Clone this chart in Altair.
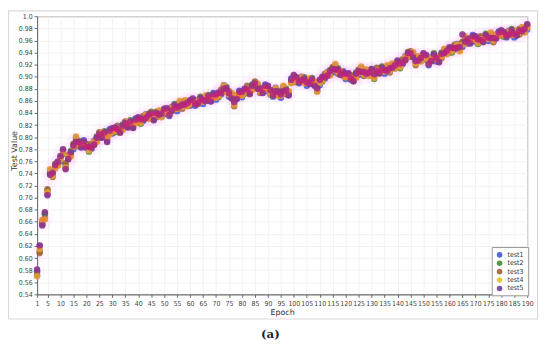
import altair as alt
import pandas as pd

epochs = list(range(1, 191))
series_names = ["test1", "test2", "test3", "test4", "test5"]
series_colors = ["#4058d8", "#3f8f2f", "#a0613a", "#e3c22a", "#6a3fa0"]

# values in thousandths
test1 = [578, 620, 656, 672, 706, 745, 739, 750, 760, 760,
         778, 749, 770, 772, 780, 799, 791, 784, 795, 782,
         782, 781, 794, 796, 799, 806, 807, 794, 813, 806,
         814, 811, 814, 816, 817, 823, 825, 816, 831, 824,
         828, 827, 838, 834, 833, 835, 839, 838, 841, 838,
         846, 835, 850, 850, 843, 858, 853, 855, 859, 852,
         862, 852, 862, 862, 855, 867, 867, 860, 873, 862,
         872, 871, 886, 878, 867, 871, 857, 864, 877, 866,
         878, 877, 878, 882, 883, 887, 879, 874, 887, 876,
         876, 867, 882, 872, 865, 883, 877, 870, 897, 894,
         897, 889, 900, 894, 885, 895, 895, 886, 883, 886,
         898, 897, 908, 906, 907, 919, 911, 904, 909, 896,
         904, 895, 899, 902, 903, 915, 907, 906, 909, 904,
         902, 907, 912, 912, 905, 917, 913, 916, 921, 918,
         920, 921, 934, 936, 933, 939, 925, 928, 933, 930,
         934, 919, 932, 934, 925, 931, 937, 940, 945, 940,
         946, 945, 954, 946, 949, 965, 961, 956, 969, 958,
         960, 959, 964, 966, 959, 971, 963, 964, 975, 968,
         972, 965, 976, 974, 965, 975, 976, 976, 981, 978]
test2 = [572, 611, 662, 674, 712, 739, 742, 753, 754, 767,
         772, 754, 765, 777, 787, 793, 794, 787, 788, 789,
         776, 786, 789, 801, 806, 800, 810, 797, 806, 813,
         808, 816, 809, 821, 824, 817, 828, 819, 824, 831,
         822, 832, 833, 839, 840, 829, 842, 841, 834, 845,
         840, 840, 845, 855, 850, 852, 856, 858, 852, 859,
         856, 857, 857, 867, 862, 861, 870, 863, 866, 869,
         866, 876, 881, 883, 874, 865, 860, 867, 870, 873,
         872, 882, 873, 887, 890, 881, 882, 877, 880, 883,
         870, 872, 877, 877, 872, 877, 880, 873, 890, 901,
         891, 894, 895, 899, 892, 889, 898, 889, 876, 893,
         892, 902, 903, 911, 914, 913, 914, 907, 902, 903,
         898, 900, 894, 907, 910, 909, 910, 909, 902, 911,
         896, 912, 907, 917, 912, 911, 916, 919, 914, 925,
         914, 926, 929, 941, 940, 933, 928, 931, 926, 937,
         928, 924, 927, 939, 932, 925, 940, 943, 938, 947,
         940, 950, 949, 951, 956, 959, 964, 959, 962, 965,
         954, 964, 959, 971, 966, 965, 966, 967, 968, 975,
         966, 970, 971, 979, 972, 969, 979, 979, 974, 985]
test3 = [577, 608, 658, 665, 714, 741, 734, 756, 756, 766,
         777, 757, 763, 770, 789, 795, 785, 789, 790, 788,
         781, 789, 787, 794, 808, 802, 801, 799, 808, 812,
         813, 819, 807, 814, 826, 819, 819, 821, 826, 830,
         827, 835, 831, 832, 842, 831, 833, 843, 836, 844,
         845, 843, 843, 848, 852, 854, 847, 860, 854, 858,
         861, 860, 855, 860, 864, 863, 861, 865, 868, 868,
         871, 879, 879, 876, 876, 867, 851, 869, 872, 872,
         877, 885, 871, 880, 892, 883, 873, 879, 882, 882,
         875, 875, 875, 870, 874, 879, 871, 875, 892, 900,
         896, 897, 893, 892, 894, 891, 889, 891, 878, 892,
         897, 905, 901, 904, 916, 915, 905, 909, 904, 902,
         903, 903, 892, 900, 912, 911, 901, 911, 904, 910,
         901, 915, 905, 910, 914, 913, 907, 921, 916, 924,
         919, 929, 927, 934, 942, 935, 919, 933, 928, 936,
         933, 927, 925, 932, 934, 927, 931, 945, 940, 946,
         945, 953, 947, 944, 958, 961, 955, 961, 964, 964,
         959, 967, 957, 964, 968, 967, 957, 969, 970, 974,
         971, 973, 969, 972, 974, 971, 970, 981, 976, 984]
test4 = [570, 615, 663, 664, 709, 747, 736, 748, 753, 763,
         774, 750, 769, 768, 784, 801, 788, 790, 787, 785,
         778, 784, 793, 792, 803, 808, 804, 800, 805, 809,
         810, 814, 813, 812, 821, 825, 822, 822, 823, 827,
         824, 830, 837, 830, 837, 837, 836, 844, 833, 841,
         842, 838, 849, 846, 847, 860, 850, 861, 851, 855,
         858, 855, 861, 858, 859, 869, 864, 866, 865, 865,
         868, 874, 885, 874, 871, 873, 854, 870, 869, 869,
         874, 880, 877, 878, 887, 889, 876, 880, 879, 879,
         872, 870, 881, 868, 869, 885, 874, 876, 889, 897,
         893, 892, 899, 890, 889, 897, 892, 892, 875, 889,
         894, 900, 907, 902, 911, 921, 908, 910, 901, 899,
         900, 898, 898, 898, 907, 917, 904, 912, 901, 907,
         898, 910, 911, 908, 909, 919, 910, 922, 913, 921,
         916, 924, 933, 932, 937, 941, 922, 934, 925, 933,
         930, 922, 931, 930, 929, 933, 934, 946, 937, 943,
         942, 948, 953, 942, 953, 967, 958, 962, 961, 961,
         956, 962, 963, 962, 963, 973, 960, 970, 967, 971,
         968, 968, 975, 970, 969, 977, 973, 982, 973, 981]
test5 = [581, 621, 654, 676, 704, 738, 741, 754, 759, 769,
         780, 747, 764, 775, 786, 792, 792, 783, 793, 784,
         784, 783, 788, 799, 805, 799, 808, 792, 811, 815,
         816, 813, 808, 819, 823, 816, 826, 815, 829, 833,
         830, 829, 832, 837, 839, 828, 840, 837, 839, 847,
         848, 837, 844, 853, 849, 851, 854, 854, 857, 861,
         864, 854, 856, 865, 861, 860, 868, 859, 871, 871,
         874, 873, 880, 881, 873, 864, 858, 863, 875, 875,
         880, 879, 872, 885, 889, 880, 880, 873, 885, 885,
         878, 869, 876, 875, 871, 876, 878, 869, 895, 903,
         899, 891, 894, 897, 891, 888, 896, 885, 881, 895,
         900, 899, 902, 909, 913, 912, 912, 903, 907, 905,
         906, 897, 893, 905, 909, 908, 908, 905, 907, 913,
         904, 909, 906, 915, 911, 910, 914, 915, 919, 927,
         922, 923, 928, 939, 939, 932, 926, 927, 931, 939,
         936, 921, 926, 937, 931, 924, 938, 939, 943, 949,
         948, 947, 948, 949, 970, 958, 962, 955, 967, 967,
         962, 961, 958, 969, 965, 964, 964, 963, 973, 977,
         974, 967, 970, 977, 971, 968, 977, 975, 979, 987]

x_ticks = [1] + list(range(5, 191, 5))
y_ticks = [round(0.54 + 0.02 * i, 2) for i in range(24)]

rows = []
for name, vals in zip(series_names, [test1, test2, test3, test4, test5]):
    for e, v in zip(epochs, vals):
        rows.append({"epoch": e, "value": v / 1000.0, "series": name})
df = pd.DataFrame(rows)

W, H = 497, 282
NARROW = "Liberation Sans Narrow, DejaVu Sans Condensed, sans-serif"

x_enc = alt.X("epoch:Q",
              scale=alt.Scale(domain=[1, 190], nice=False, zero=False),
              axis=alt.Axis(values=x_ticks, title="Epoch", titlePadding=2,
                            labelFlush=False, labelOverlap=False))
y_enc = alt.Y("value:Q",
              scale=alt.Scale(domain=[0.54, 1.0], nice=False, zero=False),
              axis=alt.Axis(values=y_ticks, title="Test Value",
                            labelExpr="datum.value >= 0.999 ? '1.0' : format(datum.value, '.2f')",
                            labelFlush=False, labelOverlap=False,
                            titleX=-19, titleY=136))

halo = alt.Chart(df[df["series"] == "test3"]).mark_circle(
    size=320, color="#ff70ff", opacity=0.055
).encode(x=x_enc, y=y_enc)

points = alt.Chart(df).mark_circle(size=42, opacity=0.85).encode(
    x=x_enc, y=y_enc,
    color=alt.Color("series:N",
                    scale=alt.Scale(domain=series_names, range=series_colors),
                    legend=alt.Legend(orient="none", legendX=461, legendY=234,
                                      title=None, symbolType="circle",
                                      symbolSize=32, labelFontSize=7,
                                      labelFont=NARROW, labelColor="#333",
                                      rowPadding=1.5, padding=4,
                                      strokeColor="#999", fillColor="white",
                                      symbolOpacity=0.9)),
)

tint = alt.Chart(df[df["series"].isin(["test4", "test5"])]).mark_circle(
    size=44, color="#ff1060", opacity=0.2
).encode(x=x_enc, y=y_enc)

frame = alt.Chart(pd.DataFrame({"k": [0]})).mark_rect(
    fillOpacity=0, stroke="#d9d9d9", strokeWidth=1.2
).encode(x=alt.value(-29), x2=alt.value(507.5), y=alt.value(-5.5), y2=alt.value(307))

caption = alt.Chart(pd.DataFrame({"t": ["(a)"]})).mark_text(
    font="DejaVu Serif", fontSize=12, fontWeight="bold", color="#222"
).encode(x=alt.value(236.5), y=alt.value(322), text="t:N")

chart = alt.layer(frame, halo, points, tint, caption).properties(
    width=W, height=H,
    autosize="none",
    padding={"left": 29.5, "top": 6, "right": 15, "bottom": 48},
).configure_view(
    stroke="#8a8a8a", strokeWidth=1
).configure_axis(
    labelFont=NARROW, labelFontSize=7, labelColor="#444",
    titleFont="DejaVu Sans", titleFontSize=8, titleColor="#333", titleFontWeight="normal",
    domainColor="#666", tickColor="#666", tickSize=3,
    gridColor="#eeeeee", gridWidth=0.8, labelPadding=2,
)

chart.save("out.html", embed_options={"renderer": "svg", "actions": False})
